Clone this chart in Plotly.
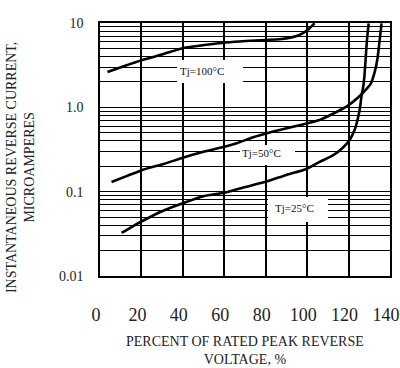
import plotly.graph_objects as go

# ---- data ----
x_100 = [3.6, 11.8, 20.5, 30.7, 40.3, 50.4, 60.6, 70.2, 79.9, 86.6, 93.0, 96.3, 100.2, 103.6]
y_100 = [2.62, 3.09, 3.64, 4.29, 5.05, 5.48, 5.87, 6.12, 6.29, 6.41, 6.8, 7.21, 8.26, 9.92]

x_50 = [5.55, 12.8, 20.5, 30.7, 40.3, 50.4, 60.6, 66.4, 73.6, 81.8, 89.6, 97.8, 106.0,
        113.2, 119.5, 124.3, 127.7, 130.6, 132.6, 134.0, 134.9, 135.7, 135.9]
y_50 = [0.130, 0.153, 0.181, 0.213, 0.254, 0.299, 0.343, 0.378, 0.439, 0.503, 0.561, 0.626, 0.708,
        0.857, 1.04, 1.29, 1.56, 1.89, 2.62, 3.85, 5.95, 8.72, 9.9]

x_25 = [10.4, 15.2, 20.0, 30.2, 40.3, 50.4, 60.6, 70.2, 80.4, 90.0, 99.7, 106.0, 112.7, 117.1,
        120.5, 122.9, 124.3, 125.5, 126.2, 127.2, 127.7, 128.2, 128.7, 129.2, 129.7]
y_25 = [0.0324, 0.0381, 0.0443, 0.0590, 0.0734, 0.0889, 0.0977, 0.1135, 0.132, 0.158, 0.186, 0.225,
        0.272, 0.330, 0.410, 0.538, 0.708, 0.982, 1.33, 1.84, 2.42, 3.64, 5.48, 7.60, 9.9]

series_names = ["Tj=100°C", "Tj=50°C", "Tj=25°C"]

x_ticks = [0, 20, 40, 60, 80, 100, 120, 140]
y_major = [0.01, 0.1, 1, 10]
y_major_text = ["0.01", "0.1", "1.0", "10"]

x_title = "PERCENT OF RATED PEAK REVERSE<br>VOLTAGE, %"
y_title = "INSTANTANEOUS REVERSE CURRENT,<br>MICROAMPERES"

# ---- figure ----
SERIF = "Liberation Serif, Times New Roman, serif"
fig = go.Figure()
for xs, ys, name in [(x_100, y_100, series_names[0]), (x_50, y_50, series_names[1]), (x_25, y_25, series_names[2])]:
    fig.add_trace(go.Scatter(x=xs, y=ys, mode="lines", name=name,
                             line=dict(color="black", width=2.6, shape="spline", smoothing=0.5),
                             showlegend=False, hoverinfo="skip"))

# y gridlines at 1..9 per decade
y_grid = []
y_grid_text = []
for d in [0.01, 0.1, 1]:
    for k in range(1, 10):
        v = round(d * k, 4)
        y_grid.append(v)
        y_grid_text.append(y_major_text[y_major.index(d)] if k == 1 else "")
y_grid.append(10)
y_grid_text.append("10")

fig.update_xaxes(range=[0, 140], tickvals=x_ticks, ticktext=[str(v) for v in x_ticks],
                 showgrid=True, gridcolor="black", gridwidth=1.5,
                 showline=True, linecolor="black", linewidth=1.5, mirror=True,
                 ticks="", zeroline=False, ticklabelstandoff=22, ticklabelshift=-4,
                 ticklabeloverflow="allow", automargin=False,
                 tickfont=dict(family=SERIF, size=18, color="#222"))
fig.update_yaxes(type="log", range=[-2, 1], tickvals=y_grid, ticktext=y_grid_text,
                 showgrid=True, gridcolor="black", gridwidth=1,
                 showline=True, linecolor="black", linewidth=1.5, mirror=True,
                 ticks="", zeroline=False, ticklabelstandoff=12, automargin=False,
                 tickfont=dict(family=SERIF, size=14, color="#222"))

# white label boxes (paper coordinates) and curve labels
boxes = [(0.2655, 0.4931, 0.7628, 0.8538), (0.4828, 0.6724, 0.4387, 0.5178), (0.5793, 0.7862, 0.2134, 0.3123)]
label_pos = [(0.3517, 0.8103), (0.5586, 0.4862), (0.669, 0.2688)]
for (x0, x1, y0, y1), (lx, ly), name in zip(boxes, label_pos, series_names):
    fig.add_shape(type="rect", xref="paper", yref="paper", x0=x0, x1=x1, y0=y0, y1=y1,
                  fillcolor="white", line=dict(width=0), layer="above")
    fig.add_annotation(xref="paper", yref="paper", x=lx, y=ly, text=name, showarrow=False,
                       font=dict(family=SERIF, size=11, color="#111"), xanchor="center", yanchor="middle")

fig.add_annotation(xref="paper", yref="paper", x=0.5, y=-0.2925, text=x_title, showarrow=False,
                   font=dict(family=SERIF, size=14, color="#222"), xanchor="center", yanchor="middle")
fig.add_annotation(xref="paper", yref="paper", x=-0.272, y=0.427, text=y_title, showarrow=False,
                   textangle=-90, font=dict(family=SERIF, size=14, color="#222"),
                   xanchor="center", yanchor="middle")

fig.update_layout(width=400, height=368, margin=dict(l=100, r=10, t=23, b=92),
                  paper_bgcolor="white", plot_bgcolor="white")
fig.write_html("out.html", config={"displayModeBar": False},
               post_script="document.body.style.margin='0';")
